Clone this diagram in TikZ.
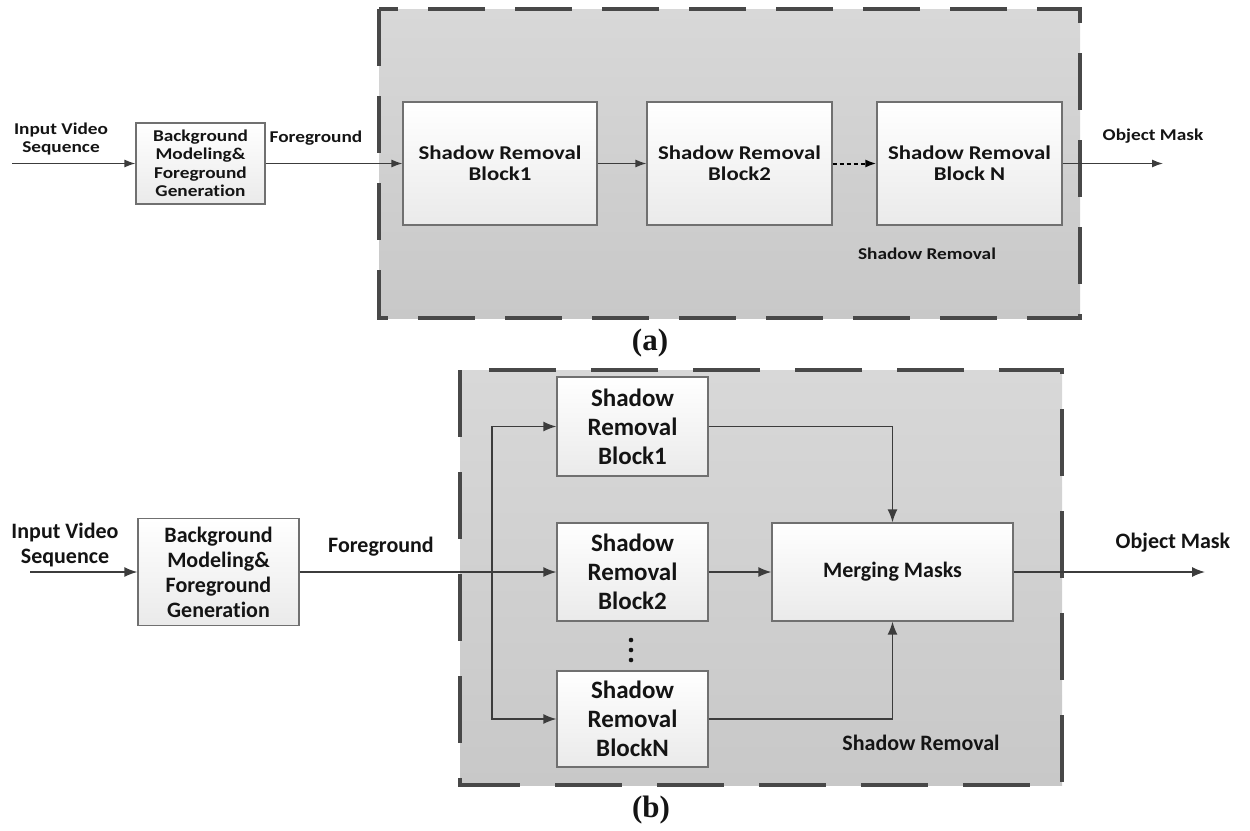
\documentclass[tikz,border=0pt]{standalone}
\usepackage{fontspec}
\setmainfont{Carlito}[Ligatures=NoCommon]
\newfontfamily\widefont{Carlito}[FakeStretch=1.17, Ligatures=NoCommon]
\newfontfamily\capfont{Liberation Serif}
\usetikzlibrary{arrows.meta, positioning}

\definecolor{panelTop}{HTML}{D8D8D8}
\definecolor{panelBot}{HTML}{C8C8C8}
\definecolor{dashc}{HTML}{484848}
\definecolor{boxline}{HTML}{707070}
\definecolor{boxbot}{HTML}{EAEAEA}
\definecolor{linkc}{HTML}{3C3C3C}
\definecolor{txt}{HTML}{141414}

\newcommand{\txtA}{\widefont\bfseries\fontsize{16.5}{18.5}\selectfont}
\newcommand{\blkA}{\widefont\bfseries\fontsize{19.5}{21}\selectfont}
\newcommand{\txtB}{\bfseries\fontsize{22}{25}\selectfont}
\newcommand{\blkB}{\bfseries\fontsize{25}{29}\selectfont}
\newcommand{\capt}{\capfont\bfseries\fontsize{31}{31}\selectfont}

\tikzset{
	block/.style={draw=boxline, line width=1.2pt, top color=white, bottom color=boxbot, align=center, text=txt, inner sep=2pt},
	tag/.style={text=txt, align=center, inner sep=0pt},
	flow/.style={draw=linkc, line width=1.3pt, ->},
	panel/.style={top color=panelTop, bottom color=panelBot},
	rim/.style={draw=dashc, line width=4pt}
}

\begin{document}
\begin{tikzpicture}[x=1pt, y=-1pt, >={Latex[length=11pt,width=8pt]}]
	\useasboundingbox (0,0) rectangle (1250,830);

	% (a) chain of blocks
	\shade[panel] (379,9) rectangle (1080,318);
	\draw[rim, dash pattern=on 57pt off 30pt] (379,9) rectangle (1080,318);

	\node[block, minimum width=129pt, minimum height=81pt, font=\txtA] (bgA) at (200.5,163.5) {Background\\Modeling\&\\Foreground\\Generation};
	\node[block, minimum width=194pt, minimum height=123pt, font=\blkA] (srA1) at (500,163.5) {Shadow Removal\\Block1};
	\node[block, minimum width=185pt, minimum height=123pt, font=\blkA] (srA2) at (739.5,163.5) {Shadow Removal\\Block2};
	\node[block, minimum width=185pt, minimum height=123pt, font=\blkA] (srAN) at (969.5,163.5) {Shadow Removal\\Block N};

	\coordinate (inA) at (12,163.5);
	\coordinate (outA) at (1163,163.5);
	\draw[flow] (inA) -- (bgA);
	\draw[flow] (bgA) -- (srA1);
	\draw[flow] (srA1) -- (srA2);
	\draw[flow, draw=black, line width=2pt, dash pattern=on 4pt off 3pt] (srA2) -- (srAN);
	\draw[flow] (srAN) -- (outA);

	\node[tag, font=\txtA] (inTxtA) at (61,139) {Input Video\\Sequence};
	\node[tag, font=\txtA] (fgTxtA) at (316,138) {Foreground};
	\node[tag, font=\txtA] (maskTxtA) at (1153,136) {Object Mask};
	\node[tag, font=\txtA] (srTxtA) at (927,254) {Shadow Removal};
	\node[tag, font=\capt] (capA) at (650,343) {(a)};

	% (b) parallel blocks
	\shade[panel] (460,370) rectangle (1062,785);
	\draw[rim, dash pattern=on 67pt off 35pt] (460,370) rectangle (1062,785);

	\node[block, minimum width=161pt, minimum height=107pt, font=\txtB] (bgB) at (218.5,572) {Background\\Modeling\&\\Foreground\\Generation};
	\node[block, minimum width=151pt, minimum height=99pt, font=\blkB] (srB1) at (632.5,426.5) {Shadow\\Removal\\Block1};
	\node[block, minimum width=151pt, minimum height=98pt, font=\blkB] (srB2) at (632.5,572) {Shadow\\Removal\\Block2};
	\node[block, minimum width=151pt, minimum height=96pt, font=\blkB] (srBN) at (632.5,719) {Shadow\\Removal\\BlockN};
	\node[block, minimum width=241pt, minimum height=98pt, font=\txtB] (merge) at (892.5,572) {Merging Masks};
	\foreach \y in {640,650,660}
		\fill[txt] (631,\y) circle (2.3);

	\coordinate (inB) at (30,572);
	\coordinate (fork) at (492,572);
	\coordinate (outB) at (1205,572);
	\draw[flow, line width=1.5pt, >={Latex[length=13pt,width=10pt]}] (inB) -- (bgB);
	\draw[flow, line width=1.5pt, >={Latex[length=13pt,width=10pt]}] (bgB) -- (srB2);
	\draw[flow, line width=1.5pt, >={Latex[length=13pt,width=10pt]}] (fork) |- (srB1);
	\draw[flow, line width=1.5pt, >={Latex[length=13pt,width=10pt]}] (fork) |- (srBN);
	\draw[flow, line width=1.5pt, >={Latex[length=13pt,width=10pt]}] (srB2) -- (merge);
	\draw[flow, line width=1.5pt, >={Latex[length=13pt,width=10pt]}] (srB1) -| (merge);
	\draw[flow, line width=1.5pt, >={Latex[length=13pt,width=10pt]}] (srBN) -| (merge);
	\draw[flow, line width=1.5pt, >={Latex[length=13pt,width=10pt]}] (merge) -- (outB);

	\node[tag, font=\txtB] (inTxtB) at (65,545) {Input Video\\Sequence};
	\node[tag, font=\txtB] (fgTxtB) at (381,547) {Foreground};
	\node[tag, font=\txtB] (maskTxtB) at (1173,543) {Object Mask};
	\node[tag, font=\txtB] (srTxtB) at (921,743) {Shadow Removal};
	\node[tag, font=\capt] (capB) at (651,810) {(b)};
\end{tikzpicture}
\end{document}
